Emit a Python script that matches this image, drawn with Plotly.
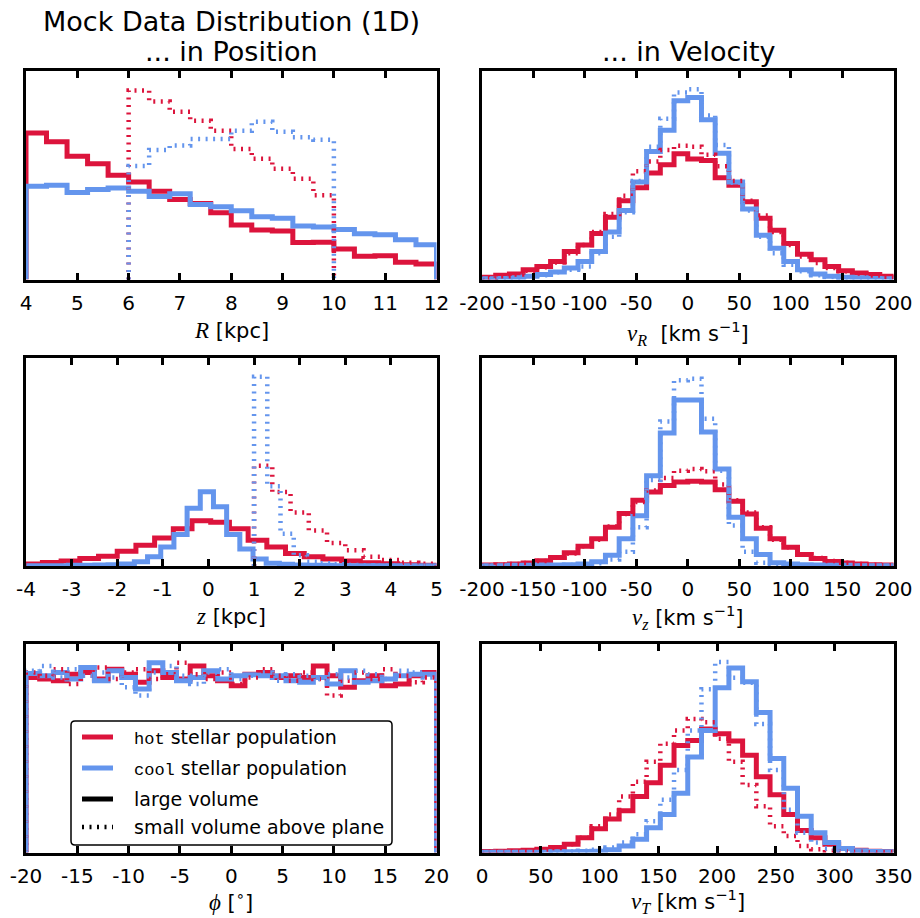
import plotly.graph_objects as go

W, H = 920, 918
HOT = "#DC143C"
COOL = "#6495ED"

# ---------------- data (arbitrary density units) ----------------
# bin specs: (first edge, bin width, number of bins)
R_BINS = (4.0, 0.4, 20)
R_SMALL_BINS = (6.0, 0.4, 10)
R_HOT = [443, 417, 373, 350, 315, 295, 267, 242, 230, 202, 165, 150, 147, 112, 113, 92, 70, 72, 52, 47]
R_COOL = [282, 285, 263, 272, 277, 267, 251, 259, 227, 220, 208, 190, 185, 162, 159, 151, 138, 135, 120, 105]
R_HOT_SMALL = [572, 538, 507, 480, 450, 395, 365, 335, 305, 255]
R_COOL_SMALL = [343, 392, 405, 425, 425, 450, 477, 447, 430, 423]

Z_HOT_BINS = (-4.05, 0.41, 23)
Z_COOL_BINS = (-3.936, 0.289, 31)
Z_HOT_SMALL_BINS = (1.0, 0.4, 10)
Z_COOL_SMALL_BINS = (1.0, 0.29, 14)
Z_HOT = [6, 11, 15, 23, 30, 45, 63, 85, 113, 138, 133, 113, 78, 58, 38, 28, 21, 15, 10, 7, 4, 2, 1]
Z_COOL = [1, 1, 1, 2, 2, 3, 4, 6, 13, 28, 58, 96, 176, 226, 180, 96, 52, 21, 8, 5, 3, 2, 2, 1, 1, 1, 1, 1, 1, 1, 1]
Z_HOT_SMALL = [305, 225, 163, 108, 70, 48, 28, 18, 10, 7]
Z_COOL_SMALL = [576, 243, 98, 33, 13, 8, 5, 3, 2, 1, 1, 1, 1, 1]

PHI_BINS = (-20.0, 40.0 / 30, 30)
PHI_HOT = [532, 527, 522, 542, 547, 527, 557, 542, 517, 552, 532, 527, 567, 537, 522,
           507, 542, 547, 532, 537, 532, 567, 537, 502, 522, 537, 507, 512, 537, 547]
PHI_COOL = [544, 537, 547, 527, 562, 522, 552, 532, 497, 577, 547, 522, 532, 552, 527,
            537, 540, 537, 537, 522, 517, 532, 512, 552, 517, 522, 527, 537, 542, 542]
PHI_HOT_SMALL = [547, 537, 557, 512, 537, 562, 527, 547, 557, 527, 542, 577, 542, 527, 547,
                 512, 532, 557, 537, 522, 547, 527, 477, 522, 547, 527, 557, 537, 517, 532]
PHI_COOL_SMALL = [552, 567, 532, 557, 537, 547, 532, 502, 477, 547, 567, 537, 512, 547, 557,
                  527, 537, 547, 522, 542, 537, 527, 542, 532, 552, 542, 527, 552, 547, 532]

V_BINS = (-200.0, 400.0 / 30, 30)
VR_HOT = [7, 13, 17, 30, 40, 55, 85, 105, 140, 190, 240, 280, 325, 350, 383,
          367, 363, 310, 287, 237, 187, 150, 110, 77, 60, 40, 27, 20, 15, 10]
VR_COOL = [2, 3, 5, 10, 15, 23, 35, 55, 85, 145, 210, 297, 390, 455, 545,
           555, 487, 385, 297, 215, 135, 95, 55, 30, 17, 10, 7, 5, 3, 2]
VR_HOT_SMALL = [5, 10, 15, 27, 37, 52, 80, 105, 145, 200, 255, 330, 360, 395, 408,
                405, 380, 345, 300, 240, 195, 145, 105, 70, 50, 35, 25, 18, 12, 8]
VR_COOL_SMALL = [1, 2, 4, 8, 13, 22, 30, 40, 80, 130, 205, 300, 405, 490, 570,
                 580, 500, 410, 295, 210, 130, 80, 45, 25, 13, 8, 5, 3, 2, 1]

VZ_HOT = [3, 4, 6, 9, 16, 26, 40, 60, 83, 118, 160, 200, 225, 245, 256,
          258, 256, 232, 197, 158, 115, 83, 57, 35, 23, 14, 9, 6, 4, 3]
VZ_COOL = [1, 1, 2, 2, 3, 3, 4, 6, 13, 33, 83, 153, 275, 405, 505,
           505, 408, 295, 148, 83, 35, 10, 6, 4, 3, 2, 2, 1, 1, 1]
VZ_HOT_SMALL = [2, 4, 6, 9, 15, 25, 38, 60, 80, 120, 158, 195, 230, 268, 290,
                295, 288, 248, 200, 163, 118, 80, 57, 36, 24, 15, 10, 6, 4, 2]
VZ_COOL_SMALL = [1, 1, 1, 1, 2, 2, 3, 4, 8, 20, 43, 118, 262, 440, 565,
                 570, 448, 290, 123, 43, 10, 4, 2, 1, 1, 1, 1, 1, 1, 1]

VT_BINS = (0.0, 350.0 / 30, 30)
VT_HOT = [3, 4, 5, 7, 10, 15, 25, 45, 72, 102, 127, 170, 212, 265, 325,
          340, 375, 360, 338, 295, 230, 175, 115, 67, 45, 25, 12, 7, 4, 3]
VT_COOL = [1, 1, 1, 1, 1, 2, 2, 3, 4, 8, 20, 40, 75, 115, 180,
           290, 370, 500, 560, 518, 425, 285, 195, 110, 60, 30, 12, 5, 3, 2]
VT_HOT_SMALL = [2, 3, 4, 6, 9, 14, 25, 45, 80, 115, 170, 215, 275, 330, 370,
                405, 395, 345, 275, 205, 140, 80, 50, 20, 10, 5, 3, 2, 1, 1]
VT_COOL_SMALL = [1, 1, 1, 1, 1, 2, 3, 5, 8, 15, 30, 55, 95, 160, 250,
                 370, 495, 578, 530, 515, 390, 250, 130, 60, 30, 12, 5, 3, 2, 1]

R_TICKS = [4, 5, 6, 7, 8, 9, 10, 11, 12]
Z_TICKS = [-4, -3, -2, -1, 0, 1, 2, 3, 4, 5]
PHI_TICKS = [-20, -15, -10, -5, 0, 5, 10, 15, 20]
V_TICKS = [-200, -150, -100, -50, 0, 50, 100, 150, 200]
VT_TICKS = [0, 50, 100, 150, 200, 250, 300, 350]

# ---------------- helpers ----------------
def edges(spec):
    s, w, n = spec
    return [s + w * i for i in range(n + 1)]


def step_xy(spec, vals):
    e = edges(spec)
    x = [e[0]] + e + [e[-1]]
    y = [0] + list(vals) + [vals[-1], 0]
    return x, y


def fmt(v):
    return ("-" + str(abs(v))) if v < 0 else str(v)


MATH = "font-family:Liberation Serif;font-style:italic;font-size:23px"
UNIT = " [km s<sup>−1</sup>]"

PANELS = [
    dict(col=0, row=0, xr=[4, 12], ticks=R_TICKS, ytop=630,
         label=f"<span style='{MATH}'>R</span> [kpc]", ly=330,
         series=[(R_BINS, R_HOT, HOT, 0), (R_BINS, R_COOL, COOL, 0),
                 (R_SMALL_BINS, R_HOT_SMALL, HOT, 1), (R_SMALL_BINS, R_COOL_SMALL, COOL, 1)]),
    dict(col=1, row=0, xr=[-200, 200], ticks=V_TICKS, ytop=635,
         label=f"<span style='{MATH}'>v<sub>R</sub></span> " + UNIT, ly=333,
         series=[(V_BINS, VR_HOT, HOT, 0), (V_BINS, VR_COOL, COOL, 0),
                 (V_BINS, VR_HOT_SMALL, HOT, 1), (V_BINS, VR_COOL_SMALL, COOL, 1)]),
    dict(col=0, row=1, xr=[-4, 5], ticks=Z_TICKS, ytop=633,
         label=f"<span style='{MATH}'>z</span> [kpc]", ly=616,
         series=[(Z_HOT_BINS, Z_HOT, HOT, 0), (Z_COOL_BINS, Z_COOL, COOL, 0),
                 (Z_HOT_SMALL_BINS, Z_HOT_SMALL, HOT, 1), (Z_COOL_SMALL_BINS, Z_COOL_SMALL, COOL, 1)]),
    dict(col=1, row=1, xr=[-200, 200], ticks=V_TICKS, ytop=633,
         label=f"<span style='{MATH}'>v<sub>z</sub></span>" + UNIT, ly=617,
         series=[(V_BINS, VZ_HOT, HOT, 0), (V_BINS, VZ_COOL, COOL, 0),
                 (V_BINS, VZ_HOT_SMALL, HOT, 1), (V_BINS, VZ_COOL_SMALL, COOL, 1)]),
    dict(col=0, row=2, xr=[-20, 20], ticks=PHI_TICKS, ytop=633,
         label=f"<span style='{MATH}'>ϕ</span> [<sup>∘</sup>]", ly=901,
         series=[(PHI_BINS, PHI_HOT, HOT, 0), (PHI_BINS, PHI_COOL, COOL, 0),
                 (PHI_BINS, PHI_HOT_SMALL, HOT, 1), (PHI_BINS, PHI_COOL_SMALL, COOL, 1)]),
    dict(col=1, row=2, xr=[0, 350], ticks=VT_TICKS, ytop=632,
         label=f"<span style='{MATH}'>v<sub>T</sub></span>" + UNIT, ly=901,
         series=[(VT_BINS, VT_HOT, HOT, 0), (VT_BINS, VT_COOL, COOL, 0),
                 (VT_BINS, VT_HOT_SMALL, HOT, 1), (VT_BINS, VT_COOL_SMALL, COOL, 1)]),
]

COLS = [(24.5, 438.0), (480.5, 895.0)]
ROWS = [(69.7, 281.0), (356.5, 567.5), (642.7, 854.0)]
LW = 3
DOT = "2px,5.5px"
DOT_W = 4.5

fig = go.Figure()
layout = dict(width=W, height=H, margin=dict(l=0, r=0, t=0, b=0, autoexpand=False),
              paper_bgcolor="white", plot_bgcolor="white", showlegend=False,
              font=dict(family="DejaVu Sans", size=20, color="black"))
annotations = []
shapes = []

for i, p in enumerate(PANELS):
    k = "" if i == 0 else str(i + 1)
    x0, x1 = COLS[p["col"]]
    y0, y1 = ROWS[p["row"]]
    h = LW / 2
    layout["xaxis" + k] = dict(
        domain=[(x0 + h) / W, (x1 - h) / W], anchor="y" + k, range=p["xr"],
        showline=True, linewidth=LW, linecolor="black", mirror="allticks",
        ticks="inside", ticklen=7, tickwidth=2.5, tickcolor="black",
        tickvals=p["ticks"], ticktext=[fmt(v) for v in p["ticks"]],
        tickfont=dict(size=20), ticklabelstandoff=3, automargin=False,
        showgrid=False, zeroline=False, fixedrange=True)
    layout["yaxis" + k] = dict(
        domain=[1 - (y1 - h) / H, 1 - (y0 + h) / H], anchor="x" + k, range=[0, p["ytop"]],
        showline=True, linewidth=LW, linecolor="black", mirror=True, automargin=False,
        ticks="", showticklabels=False, showgrid=False, zeroline=False, fixedrange=True)
    for spec, vals, col, small in p["series"]:
        xs, ys = step_xy(spec, vals)
        fig.add_trace(go.Scatter(
            x=xs, y=ys, mode="lines", xaxis="x" + k, yaxis="y" + k,
            line=dict(shape="hv", color=col, width=DOT_W if small else 5,
                      dash=DOT if small else "solid"),
            hoverinfo="skip"))
    annotations.append(dict(text=p["label"], xref="paper", yref="paper",
                            x=(x0 + x1) / 2 / W, y=1 - p["ly"] / H,
                            xanchor="center", yanchor="middle", showarrow=False,
                            font=dict(size=21)))

# titles
for txt, cx, cy in [("Mock Data Distribution (1D)", 231, 21),
                    ("... in Position", 231, 51),
                    ("... in Velocity", 688, 51)]:
    annotations.append(dict(text=txt, xref="paper", yref="paper", x=cx / W, y=1 - cy / H,
                            xanchor="center", yanchor="middle", showarrow=False,
                            font=dict(size=27)))

# legend (inside the phi panel)
LEG_ITEMS = [
    ("<span style='font-family:Liberation Mono;font-size:17px'>hot</span> stellar population", HOT, "solid", 737),
    ("<span style='font-family:Liberation Mono;font-size:17px'>cool</span> stellar population", COOL, "solid", 768),
    ("large volume", "black", "solid", 799),
    ("small volume above plane", "black", DOT, 827),
]
bx0, bx1, by0, by1, r = 71, 392, 721, 845, 4


def px(x):
    return x / W


def py(y):
    return 1 - y / H


path = (f"M {px(bx0 + r)},{py(by0)} L {px(bx1 - r)},{py(by0)} Q {px(bx1)},{py(by0)} {px(bx1)},{py(by0 + r)} "
        f"L {px(bx1)},{py(by1 - r)} Q {px(bx1)},{py(by1)} {px(bx1 - r)},{py(by1)} "
        f"L {px(bx0 + r)},{py(by1)} Q {px(bx0)},{py(by1)} {px(bx0)},{py(by1 - r)} "
        f"L {px(bx0)},{py(by0 + r)} Q {px(bx0)},{py(by0)} {px(bx0 + r)},{py(by0)} Z")
shapes.append(dict(type="path", xref="paper", yref="paper", path=path,
                   line=dict(color="black", width=1.5), fillcolor="white", layer="above"))
for txt, col, dash, yc in LEG_ITEMS:
    shapes.append(dict(type="line", xref="paper", yref="paper",
                       x0=px(82), x1=px(113), y0=py(yc), y1=py(yc),
                       line=dict(color=col, width=DOT_W if dash != "solid" else 5, dash=dash),
                       layer="above"))
    annotations.append(dict(text=txt, xref="paper", yref="paper", x=px(132), y=py(yc),
                            xanchor="left", yanchor="middle", showarrow=False,
                            font=dict(size=19)))

layout["annotations"] = annotations
layout["shapes"] = shapes
fig.update_layout(**layout)
fig.write_html("out.html")
